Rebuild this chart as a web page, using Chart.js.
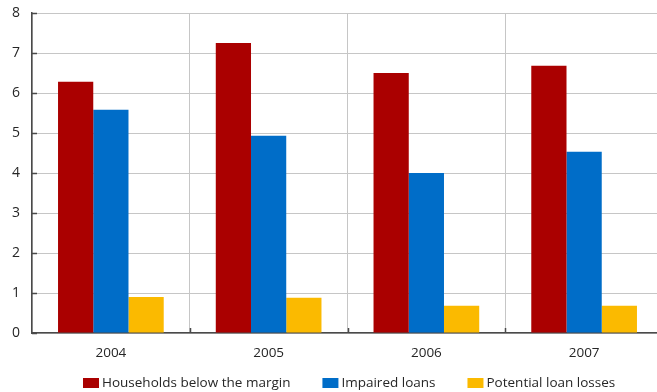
<!DOCTYPE html>
<html>
<head>
<meta charset="utf-8">
<script src="https://cdn.jsdelivr.net/npm/chart.js@4/dist/chart.umd.min.js"></script>
<style>
  html, body { margin: 0; padding: 0; background: #fff; overflow: hidden; }
  #wrap { position: relative; width: 663px; height: 392px; }
</style>
</head>
<body>
<div id="wrap"><canvas id="chart"></canvas></div>
<script>
// Years on the category axis
const categories = ['2004', '2005', '2006', '2007'];

// Series values (per cent)
const householdsBelowMargin = [6.28, 7.25, 6.5, 6.68];
const impairedLoans = [5.58, 4.93, 4.0, 4.53];
const potentialLoanLosses = [0.9, 0.88, 0.68, 0.68];

// Value axis range
const yMin = 0;
const yMax = 8;
const yStep = 1;

const FONT = '"Open Sans", "Noto Sans", sans-serif';
const TEXT_COLOR = '#262626';
const AXIS_COLOR = '#4a4a4a';
const GRID_COLOR = '#c6c6c6';

// Short dark tick marks pointing into the plot area
const innerTicks = {
  id: 'innerTicks',
  afterDatasetsDraw(chart) {
    const { ctx, chartArea } = chart;
    const x = chart.scales.x, y = chart.scales.y;
    ctx.save();
    ctx.strokeStyle = AXIS_COLOR;
    ctx.lineWidth = 1.5;
    ctx.beginPath();
    y.ticks.forEach(t => {
      const py = Math.round(y.getPixelForValue(t.value)) + 0.5;
      ctx.moveTo(chartArea.left, py);
      ctx.lineTo(chartArea.left + 5, py);
    });
    for (let i = 0; i < categories.length - 1; i++) {
      const px = Math.round((x.getPixelForValue(i) + x.getPixelForValue(i + 1)) / 2) + 0.5;
      ctx.moveTo(px, chartArea.bottom);
      ctx.lineTo(px, chartArea.bottom - 5);
    }
    ctx.stroke();
    ctx.restore();
  }
};

// Legend row along the bottom edge
const bottomLegend = {
  id: 'bottomLegend',
  afterDraw(chart) {
    const { ctx } = chart;
    ctx.save();
    ctx.font = '13.5px ' + FONT;
    ctx.textBaseline = 'middle';
    let x = 83;
    const yc = 383;
    chart.data.datasets.forEach(ds => {
      ctx.fillStyle = ds.backgroundColor;
      ctx.fillRect(x, yc - 5, 16, 10);
      ctx.fillStyle = TEXT_COLOR;
      ctx.fillText(ds.label, x + 19, yc);
      x += 19 + ctx.measureText(ds.label).width + 32;
    });
    ctx.restore();
  }
};

new Chart(document.getElementById('chart'), {
  type: 'bar',
  data: {
    labels: categories,
    datasets: [
      { label: 'Households below the margin', data: householdsBelowMargin, backgroundColor: '#aa0000' },
      { label: 'Impaired loans', data: impairedLoans, backgroundColor: '#006dc8' },
      { label: 'Potential loan losses', data: potentialLoanLosses, backgroundColor: '#fbba00' }
    ]
  },
  options: {
    responsive: true,
    maintainAspectRatio: false,
    animation: false,
    layout: { padding: { top: 13, right: 0, left: 0, bottom: 0 } },
    datasets: { bar: { categoryPercentage: 0.67, barPercentage: 1.0, borderWidth: 0 } },
    plugins: { legend: { display: false }, tooltip: { enabled: false } },
    scales: {
      x: {
        grid: { color: GRID_COLOR, lineWidth: 1, drawTicks: false, offset: true },
        border: { color: AXIS_COLOR, width: 1.5 },
        ticks: { color: TEXT_COLOR, font: { family: FONT, size: 13.5 }, padding: 12 },
        afterFit(scale) { scale.height = 59; scale.paddingLeft = 0; scale.paddingRight = 0; }
      },
      y: {
        min: yMin,
        max: yMax,
        grid: { color: GRID_COLOR, lineWidth: 1, drawTicks: false },
        border: { color: AXIS_COLOR, width: 1.5 },
        ticks: { stepSize: yStep, color: TEXT_COLOR, font: { family: FONT, size: 14 }, padding: 12 },
        afterFit(scale) { scale.width = 32; scale.paddingTop = 0; scale.paddingBottom = 0; }
      }
    }
  },
  plugins: [innerTicks, bottomLegend]
});
</script>
</body>
</html>
